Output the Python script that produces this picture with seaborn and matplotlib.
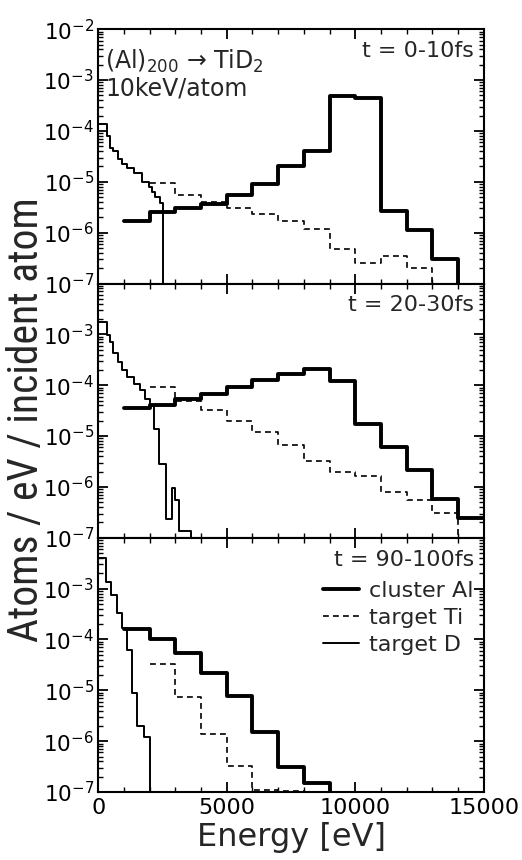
import os
import matplotlib
matplotlib.use("Agg")
import matplotlib.pyplot as plt
from matplotlib import font_manager
from matplotlib.font_manager import FontProperties
from matplotlib.lines import Line2D
from matplotlib.ticker import (LogLocator, MultipleLocator, NullFormatter,
                               FixedLocator, FixedFormatter)
import numpy as np
import pandas as pd
import seaborn as sns

# ------------------------------------------------------------------ data
FLOOR = 1e-10          # histogram falls to zero (below the axis)

time_labels = ["t = 0-10fs", "t = 20-30fs", "t = 90-100fs"]
legend_labels = ["cluster Al", "target Ti", "target D"]
ytick_vals = [1e-7, 1e-6, 1e-5, 1e-4, 1e-3, 1e-2]
ytick_text = [r"$10^{-7}$", r"$10^{-6}$", r"$10^{-5}$", r"$10^{-4}$",
              r"$10^{-3}$", r"$10^{-2}$"]

# --- t = 0-10 fs
al_edges_0 = [1000, 2000, 3000, 4000, 5000, 6000, 7000, 8000, 9000, 10000,
              11000, 12000, 13000, 14000]
al_vals_0 = [1.67e-6, 2.56e-6, 3.08e-6, 3.74e-6, 5.5e-6, 8.9e-6, 2.0e-5,
             3.97e-5, 4.9e-4, 4.5e-4, 2.65e-6, 1.14e-6, 3.0e-7]
al_drop_0 = True

ti_edges_0 = [2000, 3000, 4000, 5000, 6000, 7000, 8000, 9000, 10000, 11000,
              12000, 13000]
ti_vals_0 = [9.6e-6, 5.6e-6, 4.0e-6, 3.0e-6, 2.37e-6, 1.7e-6, 1.19e-6,
             4.8e-7, 2.5e-7, 3.4e-7, 2.0e-7]
ti_drop_0 = True

d_edges_0 = [0, 330, 460, 590, 790, 920, 1120, 1380, 1700, 1960, 2090, 2220,
             2410, 2540]
d_vals_0 = [1.38e-4, 7.9e-5, 4.6e-5, 4.0e-5, 2.75e-5, 2.2e-5, 1.83e-5,
            1.48e-5, 1.0e-5, 8.0e-6, 6.4e-6, 5.1e-6, 3.9e-6]
d_drop_0 = True

# --- t = 20-30 fs
al_edges_1 = [1000, 2000, 3000, 4000, 5000, 6000, 7000, 8000, 9000, 10000,
              11000, 12000, 13000, 14000, 15000]
al_vals_1 = [3.59e-5, 4.01e-5, 5.26e-5, 6.79e-5, 9.2e-5, 1.29e-4, 1.69e-4,
             2.09e-4, 1.19e-4, 1.73e-5, 6.0e-6, 2.18e-6, 5.7e-7, 2.5e-7]
al_drop_1 = False

ti_edges_1 = [2000, 3000, 4000, 5000, 6000, 7000, 8000, 9000, 10000, 11000,
              12000, 13000, 14000]
ti_vals_1 = [9.2e-5, 5.0e-5, 3.28e-5, 2.02e-5, 1.19e-5, 6.8e-6, 3.28e-6,
             2.01e-6, 1.66e-6, 8.0e-7, 5.6e-7, 3.1e-7]
ti_drop_1 = True

d_edges_1 = [0, 330, 460, 590, 790, 920, 1120, 1380, 1640, 1830, 2030, 2180,
             2380, 2620, 2870, 3000, 3130, 3600]
d_vals_1 = [1.77e-3, 9.8e-4, 7.1e-4, 4.4e-4, 2.9e-4, 1.97e-4, 1.45e-4,
            1.07e-4, 7.9e-5, 5.4e-5, 4.0e-5, 1.38e-5, 2.8e-6, 2.3e-7,
            9.7e-7, 5.6e-7, 1.35e-7]
d_drop_1 = True

# --- t = 90-100 fs
al_edges_2 = [1000, 2000, 3000, 4000, 5000, 6000, 7000, 8000, 9000]
al_vals_2 = [1.62e-4, 1.0e-4, 5.5e-5, 2.24e-5, 7.85e-6, 1.51e-6, 3.1e-7,
             1.48e-7]
al_drop_2 = True

ti_edges_2 = [2000, 3000, 4000, 5000, 6000, 7000, 8000]
ti_vals_2 = [3.27e-5, 7.3e-6, 1.36e-6, 3.2e-7, 1.12e-7, 1.07e-7]
ti_drop_2 = True

d_edges_2 = [0, 320, 510, 740, 935, 1130, 1320, 1520, 1780, 2010]
d_vals_2 = [4.06e-3, 1.38e-3, 7.36e-4, 3.28e-4, 1.67e-4, 6.35e-5, 8.97e-6,
            1.95e-6, 1.19e-6]
d_drop_2 = True

panels = [
    [(al_edges_0, al_vals_0, al_drop_0), (ti_edges_0, ti_vals_0, ti_drop_0),
     (d_edges_0, d_vals_0, d_drop_0)],
    [(al_edges_1, al_vals_1, al_drop_1), (ti_edges_1, ti_vals_1, ti_drop_1),
     (d_edges_1, d_vals_1, d_drop_1)],
    [(al_edges_2, al_vals_2, al_drop_2), (ti_edges_2, ti_vals_2, ti_drop_2),
     (d_edges_2, d_vals_2, d_drop_2)],
]

# ------------------------------------------------------------------ style
sns.set_style("ticks")
plt.rcParams["font.family"] = ["DejaVu Sans"]
plt.rcParams["mathtext.fontset"] = "dejavusans"
plt.rcParams.update({
    "xtick.direction": "in", "ytick.direction": "in",
    "xtick.top": True, "ytick.right": True,
    "axes.edgecolor": "black", "axes.linewidth": 1.5,
    "xtick.color": "black", "ytick.color": "black",
})

series_style = [
    dict(color="black", linewidth=2.8, linestyle="-"),
    dict(color="black", linewidth=1.2, linestyle=(0, (3.5, 2.5))),
    dict(color="black", linewidth=1.4, linestyle="-"),
]


def step_frame(edges, vals, drop):
    y = list(vals) + [FLOOR if drop else vals[-1]]
    return pd.DataFrame({"energy": list(edges), "value": y})


fig = plt.figure(figsize=(5.22, 8.6), dpi=100)
axes = fig.subplots(3, 1, sharex=True)
fig.subplots_adjust(left=0.188, right=0.927, top=0.966, bottom=0.079,
                    hspace=0)

for i, ax in enumerate(axes):
    ax.set_yscale("log")
    for (edges, vals, drop), st in zip(panels[i], series_style):
        df = step_frame(edges, vals, drop)
        sns.lineplot(data=df, x="energy", y="value", ax=ax,
                     drawstyle="steps-post", estimator=None, sort=False,
                     **st)
    ax.set_xlim(0, 15000)
    ax.set_ylim(1e-7, 1e-2)
    ax.set_xlabel("")
    ax.set_ylabel("")
    ax.yaxis.set_major_locator(FixedLocator(ytick_vals))
    labels = list(ytick_text)
    if i > 0:
        labels[-1] = ""
    ax.yaxis.set_major_formatter(FixedFormatter(labels))
    ax.yaxis.set_minor_locator(LogLocator(base=10, subs=np.arange(2, 10) * 1.0,
                                          numticks=100))
    ax.yaxis.set_minor_formatter(NullFormatter())
    ax.xaxis.set_major_locator(MultipleLocator(5000))
    ax.xaxis.set_minor_locator(MultipleLocator(1000))
    ax.tick_params(which="major", length=7, width=1.3, labelsize=16, pad=4)
    ax.tick_params(which="minor", length=3.5, width=1.0)
    ax.tick_params(axis="y", which="major", labelsize=15.5, pad=3)
    for sp in ax.spines.values():
        sp.set_visible(True)
    ax.text(0.975, 0.89, time_labels[i], transform=ax.transAxes,
            ha="right", va="baseline", fontsize=16)

axes[0].text(0.018, 0.844, r"(Al)$_{200}$ → TiD$_2$",
             transform=axes[0].transAxes, ha="left", va="baseline",
             fontsize=17, family=["DejaVu Sans"])
axes[0].text(0.018, 0.738, "10keV/atom", transform=axes[0].transAxes,
             ha="left", va="baseline", fontsize=17)

handles = [Line2D([], [], **st) for st in series_style]
axes[2].legend(handles, legend_labels, loc="upper left",
               bbox_to_anchor=(0.582, 0.83), frameon=False, fontsize=16,
               handlelength=1.65, handletextpad=0.45, labelspacing=0.32,
               borderpad=0, borderaxespad=0)

axes[2].set_xlabel("Energy [eV]", fontsize=23, labelpad=3)

# ---- y label: a condensed face if one is installed, fitted to length
bad_words = ("bold", "italic", "oblique", "light", "medium", "black", "thin",
             "extra", "ultra", "heavy", "semi", "demi")
fam_rank = ("liberationsansnarrow", "notosans", "roboto", "opensans",
            "dejavusans")
best = None
for f in font_manager.fontManager.ttflist:
    b = os.path.basename(f.fname).lower().replace("-", "").replace("_", "")
    if ("condensed" in b or "narrow" in b) and not any(w in b for w in bad_words):
        rank = next((k for k, fr in enumerate(fam_rank) if b.startswith(fr)), 99)
        if best is None or rank < best[0]:
            best = (rank, f.fname)
if best is not None:
    yl_kw = dict(fontproperties=FontProperties(fname=best[1]))
else:
    yl_kw = dict(family=["DejaVu Sans"])

ylab = fig.text(27 / 522, 1 - 420 / 860, "Atoms / eV / incident atom",
                rotation=90, ha="center", va="center", **yl_kw)
ylab.set_fontsize(24)
fig.canvas.draw()
bb = ylab.get_window_extent()
ylab.set_fontsize(24 * 468.0 / bb.height)
fig.canvas.draw()
bb = ylab.get_window_extent()
if bb.width > 40:
    ylab.set_fontsize(ylab.get_fontsize() * 40.0 / bb.width)

fig.savefig("out.png", dpi=100)
